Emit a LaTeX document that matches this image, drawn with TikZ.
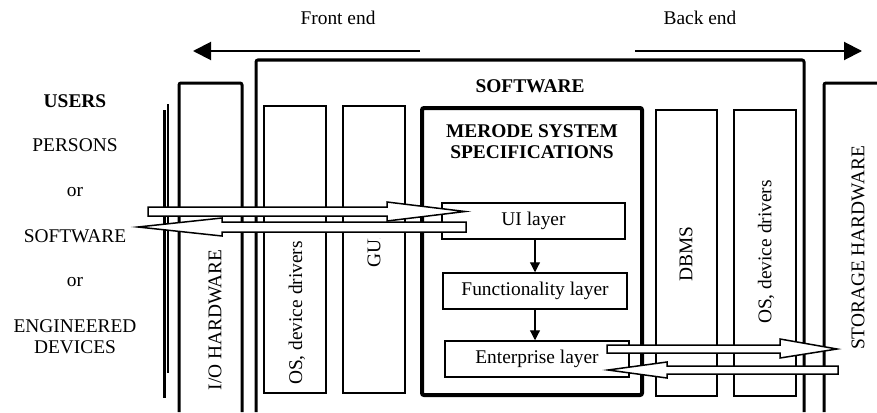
\documentclass[tikz,border=0pt]{standalone}
\usepackage{fontspec}
\setmainfont{Liberation Serif}
\usetikzlibrary{arrows.meta}

\begin{document}
\begin{tikzpicture}[x=1pt, y=-1pt,
    txt/.style={font=\fontsize{19.4}{21}\selectfont, inner sep=0pt, align=center},
    bold/.style={txt, font=\fontsize{19.4}{21}\selectfont\bfseries},
    vert/.style={txt, rotate=90},
    column/.style={draw, line width=1.5pt},
    layerbox/.style={draw, line width=1.5pt, txt},
    frame/.style={line width=3pt, rounded corners=2pt},
    pipe/.style={draw, fill=white, line width=1.5pt, line join=miter},
    flow/.style={-{Triangle[length=10pt, width=10pt]}, line width=1.2pt},
    side/.style={-{Triangle[length=18pt, width=18pt]}, line width=2pt}]
            \useasboundingbox (0,0) rectangle (877,412);
            % Front end / back end
            \node[txt] (front) at (338,18) {Front end};
            \node[txt] (back) at (700,18) {Back end};
            \coordinate (fs) at (420,51);
            \coordinate (fe) at (193,51);
            \coordinate (bs) at (635,51);
            \coordinate (be) at (862,51);
            \draw[side] (fs) -- (fe);
            \draw[side] (bs) -- (be);
            % Users
            \node[bold] (users) at (75,101) {USERS};
            \node[txt] (persons) at (75,145) {PERSONS};
            \node[txt] (or1) at (75,192) {or};
            \node[txt] (softw) at (75,236) {SOFTWARE};
            \node[txt] (or2) at (75,282) {or};
            \node[txt] (devices) at (75,337) {ENGINEERED\\DEVICES};
            \draw[line width=3pt] (164,110) -- (164,398);
            \draw[line width=1.5pt] (168,104) -- (168,373);
            % Hardware and software frames
            \draw[frame] (179,412) -- (179,83) -- (242,83) -- (242,412);
            \draw[frame] (256,412) -- (256,60) -- (804,60) -- (804,412);
            \draw[frame] (824,412) -- (824,83) -- (880,83);
            \node[bold] (software) at (530,86) {SOFTWARE};
            \node[vert] (io) at (215,320) {I/O HARDWARE};
            \node[vert] (storage) at (858,248) {STORAGE HARDWARE};
            % Columns
            \draw[column] (264,106) rectangle (326,393);
            \draw[column] (343,106) rectangle (405,393);
            \draw[column] (656,110) rectangle (717,396);
            \draw[column] (734,110) rectangle (796,396);
            \node[vert] (osl) at (297,313) {OS, device drivers};
            \begin{scope}
                \clip (343,238) rectangle (405,393);
                \node[vert] (gui) at (374,250) {GUI};
            \end{scope}
            \node[vert] (dbms) at (686,254) {DBMS};
            \node[vert] (osr) at (766,252) {OS, device drivers};
            % MERODE
            \draw[line width=4pt, rounded corners=2pt] (422,108) rectangle (642,395);
            \node[bold] (merode) at (532,142) {MERODE SYSTEM\\SPECIFICATIONS};
            \node[layerbox, minimum width=183pt, minimum height=36pt] (ui) at (533.5,221) {UI layer};
            \node[layerbox, minimum width=184pt, minimum height=36pt] (func) at (535,291) {Functionality layer};
            \node[layerbox, minimum width=184pt, minimum height=36pt] (ent) at (537,359) {Enterprise layer};
            \draw[flow] (ui.south -| func.north) -- (func.north);
            \draw[flow] (func.south) -- (func.south |- ent.north);
            % Hollow arrows
            \path[pipe] (148,207) -- (387,207) -- (387,202) -- (465,211.5) -- (387,221) -- (387,216) -- (148,216) -- cycle;
            \path[pipe] (466,222) -- (222,222) -- (222,218) -- (138,227) -- (222,236) -- (222,232) -- (466,232) -- cycle;
            \path[pipe] (607,345) -- (780,345) -- (780,339) -- (837,349) -- (780,358) -- (780,353) -- (607,353) -- cycle;
            \path[pipe] (838,366) -- (667,366) -- (667,362) -- (608,370) -- (667,378) -- (667,374) -- (838,374) -- cycle;
        \end{tikzpicture}
\end{document}
